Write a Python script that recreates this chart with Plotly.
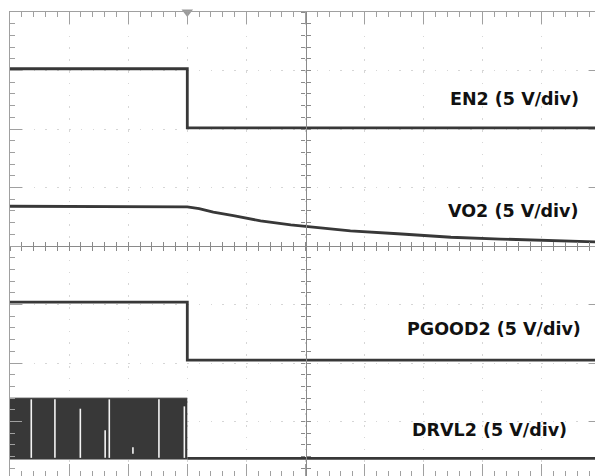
import plotly.graph_objects as go

# Time axis in divisions (10 div), voltage in divisions (5 V/div), centre = 0
en2_t = [0.0, 3.0, 3.0, 10.0]
en2_v = [3.03, 3.03, 2.02, 2.02]

vo2_t = [0.0, 3.0, 3.2, 3.44, 3.78, 4.24, 4.75, 5.2, 5.76, 6.56, 7.46, 8.3, 10.0]
vo2_v = [0.68, 0.67, 0.64, 0.58, 0.52, 0.43, 0.36, 0.31, 0.26, 0.21, 0.15, 0.12, 0.07]

pgood2_t = [0.0, 3.0, 3.0, 10.0]
pgood2_v = [-0.96, -0.96, -1.95, -1.95]

drvl2_t = [3.0, 10.0]
drvl2_v = [-3.63, -3.63]

# switching region of DRVL2 (envelope) and white gaps inside it
drvl2_sw_t = [0.0, 3.0]
drvl2_sw_high = -2.6
drvl2_sw_low = -3.64
gap_t = [0.36, 0.76, 1.19, 1.61, 1.68, 2.08, 2.52, 2.95]
gap_top = [-2.62, -2.62, -2.78, -3.15, -2.62, -3.44, -2.62, -2.74]
gap_bottom = [-3.62, -3.62, -3.62, -3.62, -3.62, -3.55, -3.62, -3.62]

trigger_t = 3.0

labels = ["EN2 (5 V/div)", "VO2 (5 V/div)", "PGOOD2 (5 V/div)", "DRVL2 (5 V/div)"]
label_t = [9.66, 9.66, 9.70, 9.45]
label_v = [2.51, 0.60, -1.42, -3.15]

Y_RANGE = [-3.93, 4.0]
X_RANGE = [0.0, 10.0]

TRACE = "#383838"
line = dict(color=TRACE, width=2.8)

fig = go.Figure()

# DRVL2 switching envelope
fig.add_trace(go.Scatter(x=drvl2_sw_t, y=[drvl2_sw_low] * len(drvl2_sw_t), mode="lines",
                         line=dict(color=TRACE, width=1), showlegend=False, hoverinfo="skip"))
fig.add_trace(go.Scatter(x=drvl2_sw_t, y=[drvl2_sw_high] * len(drvl2_sw_t), mode="lines",
                         line=dict(color=TRACE, width=1), fill="tonexty", fillcolor=TRACE,
                         showlegend=False, hoverinfo="skip"))
gx, gy = [], []
for t, a, b in zip(gap_t, gap_top, gap_bottom):
    gx += [t, t, None]
    gy += [a, b, None]
fig.add_trace(go.Scatter(x=gx, y=gy, mode="lines", line=dict(color="#f4f4f4", width=1.6),
                         showlegend=False, hoverinfo="skip"))

for tx, vy in [(en2_t, en2_v), (vo2_t, vo2_v), (pgood2_t, pgood2_v), (drvl2_t, drvl2_v)]:
    fig.add_trace(go.Scatter(x=tx, y=vy, mode="lines", line=line, showlegend=False,
                             hoverinfo="skip"))

# trigger marker
fig.add_trace(go.Scatter(x=[trigger_t], y=[Y_RANGE[1]], mode="markers",
                         marker=dict(symbol="triangle-down", size=10, color="#9a9a9a"),
                         cliponaxis=False, showlegend=False, hoverinfo="skip"))

# invisible traces to instantiate centre-axis overlays
for xa, ya in [("x2", "y"), ("x3", "y"), ("x", "y2"), ("x", "y3")]:
    fig.add_trace(go.Scatter(x=[None], y=[None], xaxis=xa, yaxis=ya, showlegend=False))

for txt, tx, vy in zip(labels, label_t, label_v):
    fig.add_annotation(x=tx, y=vy, text="<b>" + txt + "</b>", showarrow=False,
                       xanchor="right", yanchor="middle",
                       font=dict(family="DejaVu Sans, Arial, sans-serif", size=17.5,
                                 color="#111111"))

grid = dict(showgrid=True, gridcolor="#d6d6d6", gridwidth=1, griddash="1.6px,10.2px")
border = dict(showline=True, linecolor="#a0a0a0", linewidth=1, mirror="ticks",
              ticks="inside", ticklen=12, tickcolor="#a0a0a0", dtick=1,
              minor=dict(dtick=0.2, ticks="inside", ticklen=5, tickcolor="#a0a0a0"),
              showticklabels=False, zeroline=False, fixedrange=True, automargin=False)

center_minor = dict(dtick=0.2, ticklen=4, tickcolor="#8a8a8a")
ypos0 = (0 - Y_RANGE[0]) / (Y_RANGE[1] - Y_RANGE[0])
common_c = dict(showgrid=False, zeroline=False, showticklabels=False, automargin=False,
                dtick=1, tick0=0, ticklen=4, tickcolor="#8a8a8a", fixedrange=True)
# page body has an 8px default margin; figure sized so the plot area lands in place
fig.update_layout(
    width=595, height=468,
    margin=dict(l=2, r=2, t=4, b=0, pad=0, autoexpand=False),
    paper_bgcolor="white", plot_bgcolor="white",
    xaxis=dict(range=X_RANGE, tick0=0, **grid, **border),
    yaxis=dict(range=Y_RANGE, tick0=0, **grid, **border),
    xaxis2=dict(range=X_RANGE, overlaying="x", anchor="free", position=ypos0,
                showline=True, linecolor="#8a8a8a", linewidth=1.3, ticks="outside",
                minor=dict(ticks="outside", **center_minor), **common_c),
    xaxis3=dict(range=X_RANGE, overlaying="x", anchor="free", position=ypos0,
                showline=False, ticks="inside",
                minor=dict(ticks="inside", **center_minor), **common_c),
    yaxis2=dict(range=Y_RANGE, overlaying="y", anchor="free", position=0.5,
                showline=True, linecolor="#8a8a8a", linewidth=1.3, ticks="outside",
                minor=dict(ticks="outside", **center_minor), **common_c),
    yaxis3=dict(range=Y_RANGE, overlaying="y", anchor="free", position=0.5,
                showline=False, ticks="inside",
                minor=dict(ticks="inside", **center_minor), **common_c),
)

fig.write_html("out.html")
